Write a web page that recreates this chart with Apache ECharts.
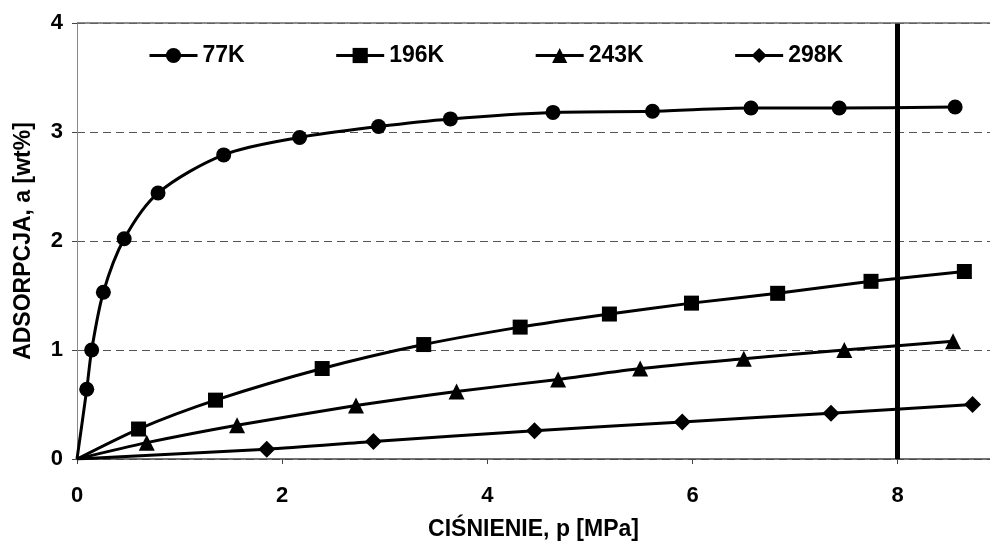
<!DOCTYPE html>
<html>
<head>
<meta charset="utf-8">
<script src="https://cdn.jsdelivr.net/npm/echarts@6/dist/echarts.min.js"></script>
<style>html,body{margin:0;padding:0;background:#fff;}#c{width:990px;height:544px;}</style>
</head>
<body>
<div id="c"></div>
<script>
// ---- data (x = pressure [MPa], y = adsorption [wt%]); first point (0,0) is the curve origin, no marker ----
const p77  = [0, 0.095, 0.143, 0.257, 0.46, 0.79, 1.43, 2.17, 2.94, 3.64, 4.64, 5.61, 6.57, 7.43, 8.56];
const a77  = [0, 0.64, 1.00, 1.53, 2.02, 2.44, 2.79, 2.95, 3.05, 3.12, 3.18, 3.19, 3.22, 3.22, 3.23];
const p196 = [0, 0.60, 1.35, 2.39, 3.38, 4.32, 5.19, 5.99, 6.83, 7.74, 8.65];
const a196 = [0, 0.275, 0.54, 0.83, 1.05, 1.21, 1.33, 1.43, 1.52, 1.63, 1.72];
const p243 = [0, 0.68, 1.56, 2.72, 3.70, 4.69, 5.49, 6.50, 7.48, 8.54];
const a243 = [0, 0.15, 0.31, 0.49, 0.62, 0.73, 0.83, 0.92, 1.00, 1.08];
const p298 = [0, 1.85, 2.89, 4.46, 5.90, 7.35, 8.73];
const a298 = [0, 0.09, 0.16, 0.26, 0.34, 0.42, 0.50];
const seriesNames = ['77K', '196K', '243K', '298K'];
const xTicks = [0, 2, 4, 6, 8];
const yTicks = [0, 1, 2, 3, 4];
const limitPressure = 8;

const FONT = 'Liberation Sans, Arial, sans-serif';
function pairs(xs, ys) {
  return xs.map((x, i) => i === 0 ? { value: [x, ys[i]], symbol: 'none' } : [x, ys[i]]);
}
const symbols = ['circle', 'rect', 'triangle', 'diamond'];
const sizes = [15, 15, 16, 17];
const smooths = [0.3, 0.25, 0.25, 0.25];
const datasets = [[p77, a77], [p196, a196], [p243, a243], [p298, a298]];

const series = datasets.map((d, i) => ({
  name: seriesNames[i],
  type: 'line',
  data: pairs(d[0], d[1]),
  smooth: smooths[i],
  symbol: symbols[i],
  symbolSize: sizes[i],
  showAllSymbol: true,
  lineStyle: { color: '#000', width: 3 },
  itemStyle: { color: '#000' },
  z: 3
}));
series.push({
  type: 'line',
  data: [],
  silent: true,
  markLine: {
    silent: true,
    symbol: 'none',
    label: { show: false },
    data: [
      { xAxis: limitPressure, lineStyle: { color: '#000', width: 5, type: 'solid' } },
      { yAxis: yTicks[yTicks.length - 1], lineStyle: { color: '#666', width: 1.5, type: 'solid' } }
    ]
  },
  z: 2
});

const chart = echarts.init(document.getElementById('c'));
chart.setOption({
  animation: false,
  backgroundColor: '#fff',
  grid: { left: 77, right: 0, top: 23, bottom: 85, outerBoundsMode: 'none', containLabel: false },
  legend: {
    data: seriesNames,
    left: 143, top: 39,
    itemWidth: 48, itemHeight: 19, itemGap: 90,
    lineStyle: { width: 3 },
    textStyle: { fontFamily: FONT, fontWeight: 'bold', fontSize: 23, color: '#000' }
  },
  xAxis: {
    type: 'value', min: 0, max: 8.9, interval: 2,
    name: 'CIŚNIENIE, p [MPa]', nameLocation: 'middle', nameGap: 59, nameMoveOverlap: false,
    nameTextStyle: { fontFamily: FONT, fontWeight: 'bold', fontSize: 23, color: '#000' },
    axisLine: { show: true, lineStyle: { color: '#444', width: 1.5 } },
    axisTick: { show: true, length: 5, lineStyle: { color: '#444' } },
    axisLabel: { margin: 26, fontFamily: FONT, fontWeight: 'bold', fontSize: 22, color: '#000', showMaxLabel: false,
      formatter: v => xTicks.includes(v) ? String(v) : '' },
    splitLine: { show: false }
  },
  yAxis: {
    type: 'value', min: 0, max: 4, interval: 1,
    name: 'ADSORPCJA, a [wt%]', nameLocation: 'middle', nameGap: 42, nameMoveOverlap: false,
    nameTextStyle: { fontFamily: FONT, fontWeight: 'bold', fontSize: 23, color: '#000' },
    axisLine: { show: true, lineStyle: { color: '#888', width: 1 } },
    axisTick: { show: true, length: 5, lineStyle: { color: '#444' } },
    axisLabel: { margin: 14, fontFamily: FONT, fontWeight: 'bold', fontSize: 22, color: '#000',
      formatter: v => yTicks.includes(v) ? String(v) : '' },
    splitLine: { show: true, lineStyle: { color: '#555', width: 1, type: [8, 5] } }
  },
  series: series
});
</script>
</body>
</html>
